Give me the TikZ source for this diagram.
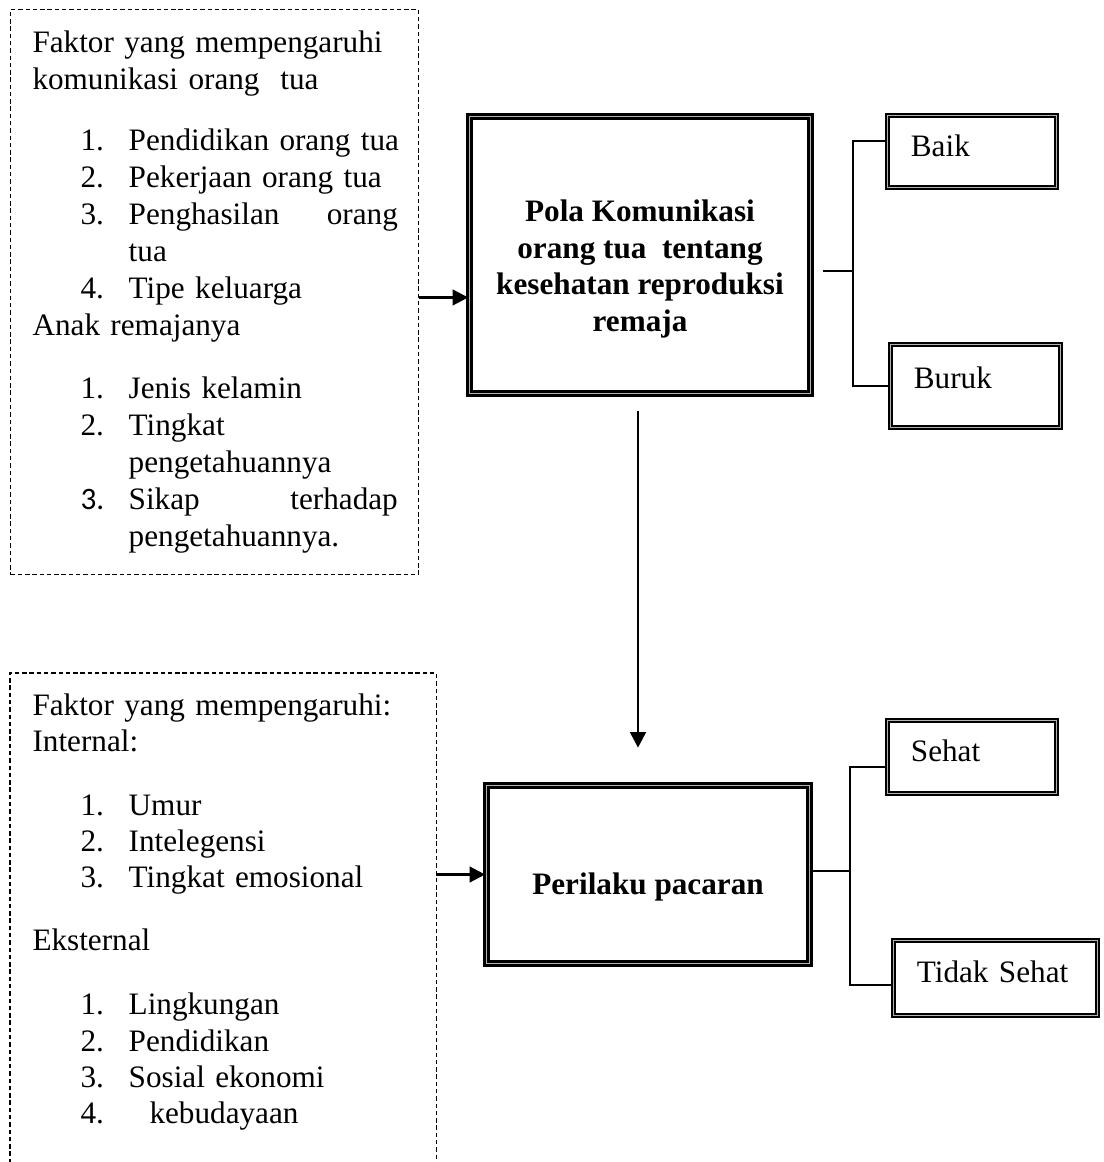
\documentclass[tikz,border=0pt]{standalone}
\usepackage{fontspec}
\setmainfont{Liberation Serif}
\newfontfamily\calfont{Carlito}
\usetikzlibrary{arrows.meta}
\newcommand{\Li}[2]{\hspace*{18.5pt}\makebox[18.5pt][l]{#1}#2}
\newcommand{\Js}[1]{\makebox[103.5pt][s]{#1}}

\begin{document}
\begin{tikzpicture}[x=0.3846pt,y=-0.3846pt,
    font=\fontsize{12}{14.2}\selectfont,
    dashbox/.style={draw,dash pattern=on 1.7pt off 1.1pt,line width=0.4pt,inner sep=0pt},
    listtxt/.style={anchor=north west,inner sep=0pt,text width=150pt,align=left},
    mainbox/.style={draw,line width=1.05pt,double=gray!60,double distance=0.5pt,inner sep=0pt},
    maintxt/.style={align=center,inner sep=0pt,font=\fontsize{12}{14.2}\selectfont\bfseries},
    ansbox/.style={draw,line width=0.75pt,double=gray!60,double distance=0.45pt,inner xsep=9pt,text width=#1,align=left,text height=8.5pt,text depth=5pt},
    arr/.style={-{Triangle[length=6pt,width=6pt]},line width=0.95pt},
    link/.style={line width=0.5pt}]
    \useasboundingbox (0,0) rectangle (1103,1162);

    \node[dashbox,anchor=north west,minimum width=156.9pt,minimum height=217.3pt] (frameA) at (10,9) {};
    \node[listtxt] (txtA) at (32,30) {Faktor yang mempengaruhi\\
        komunikasi orang\ \ tua\\[9.5pt]
        \Li{1.}{Pendidikan orang tua}\\
        \Li{2.}{Pekerjaan orang tua}\\
        \Li{3.}{\Js{Penghasilan\hfill orang}}\\
        \Li{}{tua}\\
        \Li{4.}{Tipe keluarga}\\
        Anak remajanya\\[10.2pt]
        \Li{1.}{Jenis kelamin}\\
        \Li{2.}{Tingkat}\\
        \Li{}{pengetahuannya}\\
        \Li{{\calfont 3.}}{\Js{Sikap\hfill terhadap}}\\
        \Li{}{pengetahuannya.}};

    \node[anchor=north west,minimum width=163.5pt,minimum height=188.1pt,inner sep=0pt] (frameB) at (10,673) {};
    \draw[dashbox] (frameB.south west) -- (frameB.north west) -- (frameB.north east) -- (frameB.south east);
    \node[listtxt,font=\fontsize{12}{13.9}\selectfont] (txtB) at (32,693) {Faktor yang mempengaruhi:\\
        Internal:\\[10.8pt]
        \Li{1.}{Umur}\\
        \Li{2.}{Intelegensi}\\
        \Li{3.}{Tingkat emosional}\\[10.3pt]
        Eksternal\\[10.8pt]
        \Li{1.}{Lingkungan}\\
        \Li{2.}{Pendidikan}\\
        \Li{3.}{Sosial ekonomi}\\
        \Li{4.}{\ \ kebudayaan}};

    \node[mainbox,minimum width=131.1pt,minimum height=106.5pt] (pola) at (640,255) {};
    \node[maintxt] (polaTxt) at (640,269) {Pola Komunikasi\\orang tua\ \ tentang\\kesehatan reproduksi\\remaja};
    \node[mainbox,minimum width=124.2pt,minimum height=68.5pt] (perilaku) at (648,874.5) {};
    \node[maintxt] (perilakuTxt) at (648,887) {Perilaku pacaran};

    \node[ansbox=47pt,minimum width=65pt,minimum height=27.7pt] (baik) at (972,151.5) {Baik};
    \node[ansbox=47.4pt,minimum width=65.4pt,minimum height=31.9pt,text depth=6.5pt] (buruk) at (975.5,386) {Buruk};
    \node[ansbox=47pt,minimum width=65pt,minimum height=28.1pt] (sehat) at (972,757) {Sehat};
    \node[ansbox=60.5pt,minimum width=78.5pt,minimum height=28.8pt] (tidak) at (995.5,978) {Tidak Sehat};

    \coordinate (aIn) at ([yshift=-2.1pt]frameA.east);
    \draw[arr] (aIn) -- (aIn -| pola.west);
    \draw[arr] (frameB.east |- perilaku.west) -- (perilaku.west);
    \coordinate (dX) at (638,0);
    \draw[arr,line width=1.1pt,shorten <=6.3pt,shorten >=14pt] (pola.south -| dX) -- (perilaku.north -| dX);

    \coordinate (jPola) at (853,271);
    \coordinate (jBaik) at (853,141);
    \coordinate (jBuruk) at (853,386);
    \draw[link,shorten <=4.4pt] (pola.east |- jPola) -- (jPola);
    \draw[link] (baik.west |- jBaik) -- (jBaik) -- (jBuruk) -- (buruk.west |- jBuruk);

    \coordinate (jPer) at (850,871);
    \coordinate (jSehat) at (850,767);
    \coordinate (jTidak) at (850,985);
    \draw[link] (perilaku.east |- jPer) -- (jPer);
    \draw[link] (sehat.west |- jSehat) -- (jSehat) -- (jTidak) -- (tidak.west |- jTidak);
\end{tikzpicture}
\end{document}
